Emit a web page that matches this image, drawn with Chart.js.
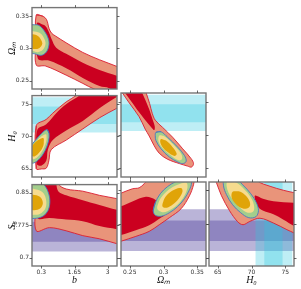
<!DOCTYPE html>
<html>
<head>
<meta charset="utf-8">
<script src="https://cdn.jsdelivr.net/npm/chart.js@4.4.0/dist/chart.umd.min.js"></script>
<style>
body { margin: 0; background: #fff; }
#wrap { position: relative; width: 301px; height: 289px; overflow: hidden; }
#wrap canvas { position: absolute; }
</style>
</head>
<body>
<div id="wrap"></div>
<script>
// axis ranges, ticks and labels
var b_range = [-0.075, 3.375], b_ticks = [0.3, 1.65, 3], b_labels = ['0.3', '1.65', '3'];
var om_range = [0.237, 0.363], om_ticks = [0.25, 0.3, 0.35], om_labels = ['0.25', '0.3', '0.35'];
var h0_range = [63.7, 76.3], h0_ticks = [65, 70, 75], h0_labels = ['65', '70', '75'];
var s8_range = [0.681, 0.869], s8_ticks = [0.7, 0.775, 0.85], s8_labels = ['0.7', '0.775', '0.85'];

// external priors (bands)
var h0_band_outer = [70.6, 76.05], h0_band_inner = [71.9, 74.6];
var s8_band_outer = [0.7145, 0.808], s8_band_inner = [0.737, 0.783];

// b - Omega_m
var b_om_2s = [[0.097,0.3515],[0.365,0.3497],[0.515,0.3445],[0.616,0.331],[0.718,0.3235],[0.88,0.319],[1.313,0.3085],[1.986,0.2936],[2.663,0.2823],[3.373,0.2719],[3.68,0.2666],[3.68,0.22],[2.46,0.2367],[1.986,0.2457],[1.313,0.2584],[0.474,0.2726],[0.097,0.2741],[0.09,0.31]];
var b_om_1s = [[0.122,0.3389],[0.434,0.3355],[0.596,0.3265],[0.718,0.3145],[0.908,0.301],[1.313,0.2916],[1.986,0.2778],[2.663,0.2666],[3.365,0.2576],[3.68,0.2531],[3.68,0.2217],[3.058,0.2382],[2.663,0.2416],[1.986,0.2542],[1.313,0.2692],[0.636,0.2808],[0.162,0.2841]];
var b_om_e2 = [[-0.255,0.337],[-0.04,0.3365],[0.203,0.3355],[0.434,0.3265],[0.596,0.3141],[0.608,0.304],[0.503,0.294],[0.3,0.2891],[0.028,0.2916],[-0.255,0.2936]];
var b_om_e1 = [[-0.255,0.3265],[-0.04,0.3265],[0.231,0.324],[0.405,0.3165],[0.474,0.3066],[0.365,0.2976],[0.162,0.294],[-0.04,0.2958],[-0.255,0.298]];
var b_om_e0 = [[-0.255,0.322],[-0.04,0.3216],[0.162,0.319],[0.3,0.3126],[0.341,0.3066],[0.231,0.3006],[0.028,0.2988],[-0.255,0.301]];

// b - H0
var b_h0_2s = [[0.097,64.97],[0.097,71.63],[0.503,72.62],[0.77,73.59],[1.313,75.33],[1.719,76.32],[2.0,77.5],[3.68,77.5],[3.68,74.9],[3.365,74.33],[2.663,72.86],[1.986,71.14],[1.313,69.41],[0.705,67.93],[0.608,66.2],[0.503,65.07],[0.3,64.95]];
var b_h0_1s = [[0.122,65.71],[0.138,70.99],[0.503,71.88],[0.973,73.85],[1.447,75.33],[1.852,76.32],[2.1,77.5],[3.68,77.5],[3.68,76.5],[3.365,76.07],[2.663,74.33],[1.986,72.37],[1.313,70.89],[0.77,69.41],[0.568,67.93],[0.503,66.2],[0.3,65.46]];
var b_h0_e2 = [[0.535,71.04],[0.616,70.44],[0.596,69.26],[0.454,67.78],[0.231,66.52],[-0.012,65.86],[-0.174,66.0],[-0.255,67.19],[-0.174,68.22],[0.069,69.41],[0.312,70.44]];
var b_h0_e1 = [[0.495,70.30],[0.515,69.41],[0.393,68.08],[0.211,67.04],[-0.012,66.45],[-0.134,66.89],[-0.093,68.22],[0.109,69.26],[0.312,70.0]];
var b_h0_e0 = [[0.393,69.70],[0.393,68.67],[0.251,67.63],[0.028,66.89],[-0.134,67.19],[-0.113,68.22],[0.069,69.11],[0.231,69.56]];

// Omega_m - H0
var om_h0_2s = [[0.2355,76.8],[0.239,76.32],[0.249,74.84],[0.2639,72.74],[0.2728,70.89],[0.2788,69.85],[0.2863,68.37],[0.2937,67.26],[0.3057,66.38],[0.3236,65.71],[0.3355,65.34],[0.3415,65.19],[0.3445,65.71],[0.341,66.45],[0.3285,67.93],[0.3136,69.66],[0.2987,71.14],[0.2878,72.22],[0.2833,73.25],[0.2794,74.73],[0.2743,76.32],[0.2728,76.8]];
var om_h0_1s = [[0.24,76.8],[0.243,76.32],[0.2534,74.88],[0.2639,73.40],[0.2743,72.07],[0.2818,71.18],[0.2863,70.74],[0.287,71.33],[0.2837,72.37],[0.2788,73.85],[0.2728,75.33],[0.2684,76.32],[0.2669,76.8]];
var om_h0_e2 = [[0.2888,70.40],[0.2963,70.49],[0.3061,69.66],[0.321,68.18],[0.331,66.94],[0.3336,66.05],[0.3285,65.71],[0.321,65.96],[0.3087,66.70],[0.2963,67.93],[0.2888,69.16],[0.2878,69.90]];
var om_h0_e1 = [[0.2937,69.90],[0.3012,69.81],[0.3161,68.42],[0.3261,67.19],[0.3276,66.45],[0.3225,66.20],[0.3112,66.94],[0.2987,68.03],[0.2927,69.01]];
var om_h0_e0 = [[0.2963,69.41],[0.3037,69.16],[0.3136,68.18],[0.3196,67.19],[0.3161,66.85],[0.3061,67.44],[0.2987,68.18],[0.2952,68.92]];

// b - S8
var b_s8_2s = [[0.097,0.90],[0.9,0.90],[1.0,0.8701],[1.313,0.8589],[1.986,0.8538],[2.663,0.8442],[3.365,0.8366],[3.68,0.8315],[3.68,0.7288],[3.365,0.7326],[2.663,0.7438],[1.986,0.7511],[1.313,0.7623],[0.636,0.7696],[0.097,0.7623],[0.097,0.83]];
var b_s8_1s = [[0.55,0.90],[0.85,0.90],[0.973,0.8554],[1.313,0.8442],[1.986,0.833],[2.663,0.8219],[3.365,0.8107],[3.68,0.806],[3.68,0.762],[3.365,0.7661],[2.663,0.7734],[1.986,0.7846],[1.313,0.7884],[0.636,0.792],[0.15,0.792],[0.15,0.85]];
var b_s8_e2 = [[-0.255,0.8739],[0.15,0.8761],[0.434,0.8672],[0.608,0.8471],[0.649,0.827],[0.576,0.8092],[0.393,0.7969],[0.109,0.7913],[-0.174,0.7935],[-0.296,0.8292]];
var b_s8_e1 = [[-0.255,0.8583],[0.15,0.8571],[0.393,0.8493],[0.503,0.8315],[0.474,0.8147],[0.312,0.8036],[0.069,0.7991],[-0.255,0.8025]];
var b_s8_e0 = [[-0.255,0.8449],[0.109,0.8442],[0.292,0.8382],[0.365,0.827],[0.312,0.817],[0.15,0.8107],[-0.093,0.8103],[-0.255,0.8158]];

// Omega_m - S8
var om_s8_2s = [[0.231,0.8404],[0.2366,0.8437],[0.2539,0.8538],[0.2639,0.856],[0.2713,0.865],[0.2788,0.8783],[0.2833,0.89],[0.346,0.89],[0.346,0.8783],[0.3445,0.8627],[0.3385,0.8382],[0.3261,0.8092],[0.3087,0.7891],[0.2937,0.7734],[0.2788,0.7585],[0.259,0.7473],[0.2366,0.7362],[0.231,0.7333]];
var om_s8_1s = [[0.231,0.8136],[0.2366,0.8143],[0.2539,0.8254],[0.2739,0.8359],[0.2878,0.8292],[0.2937,0.8158],[0.3027,0.798],[0.2937,0.7868],[0.2788,0.7723],[0.259,0.7612],[0.2366,0.75],[0.231,0.7478]];
var om_s8_e2 = [[0.2848,0.8047],[0.2878,0.8225],[0.2952,0.8426],[0.3057,0.8583],[0.3176,0.8694],[0.3296,0.8761],[0.3385,0.8783],[0.3415,0.8672],[0.3385,0.8516],[0.331,0.8315],[0.3206,0.8136],[0.3087,0.8002],[0.2967,0.7924],[0.2878,0.7946]];
var om_s8_e1 = [[0.2907,0.8092],[0.2937,0.827],[0.3027,0.8449],[0.3131,0.8571],[0.3251,0.8650],[0.334,0.8672],[0.3355,0.856],[0.331,0.8382],[0.3221,0.8203],[0.3116,0.8081],[0.2997,0.8013]];
var om_s8_e0 = [[0.2982,0.8158],[0.3012,0.8315],[0.3087,0.8449],[0.3176,0.8527],[0.3266,0.8549],[0.3281,0.8471],[0.3236,0.8337],[0.3161,0.8214],[0.3072,0.8125],[0.3012,0.8114]];

// H0 - S8
var h0_s8_2s = [[64.5,0.8783],[70.95,0.8783],[71.0,0.8701],[72.75,0.8594],[74.75,0.8504],[76.39,0.8449],[77.25,0.8426],[77.25,0.7489],[76.39,0.7545],[75.25,0.7623],[73.25,0.7772],[71.25,0.7879],[69.75,0.7808],[68.75,0.7734],[67.95,0.7801],[66.75,0.8047],[65.55,0.8382],[64.81,0.8672]];
var h0_s8_1s = [[70.5,0.8382],[71.7,0.8315],[73.25,0.8259],[74.75,0.8237],[76.39,0.8225],[77.25,0.8225],[77.25,0.7667],[76.39,0.7701],[74.75,0.7846],[73.25,0.7969],[71.75,0.8047],[70.95,0.8136]];
var h0_s8_e2 = [[66.0,0.8783],[67.5,0.8783],[68.7,0.8627],[69.9,0.8426],[70.73,0.8225],[71.03,0.8047],[70.65,0.7913],[69.6,0.7891],[68.4,0.8002],[67.2,0.8181],[66.3,0.8404],[65.85,0.8605]];
var h0_s8_e1 = [[66.45,0.8694],[67.65,0.8683],[68.85,0.8538],[69.83,0.8359],[70.35,0.8181],[70.28,0.8036],[69.45,0.8002],[68.4,0.8103],[67.35,0.827],[66.6,0.8449],[66.3,0.8605]];
var h0_s8_e0 = [[67.2,0.8471],[68.1,0.8482],[69.0,0.8404],[69.68,0.827],[69.75,0.8147],[69.15,0.8092],[68.25,0.8125],[67.5,0.8225],[67.05,0.8348]];

var salmon = 'rgb(233,148,122)', crimson = 'rgb(203,0,32)', redline = 'rgb(218,30,50)';
var green = 'rgb(163,206,140)', blueline = 'rgb(72,118,190)', lightyellow = 'rgb(246,219,142)', gold = 'rgb(224,164,8)';
var cyan = 'rgba(45,200,223,0.31)', purple = 'rgba(73,58,152,0.38)';

var axes = {
  b:  {range: b_range,  ticks: b_ticks,  labels: b_labels,  title: 'b'},
  om: {range: om_range, ticks: om_ticks, labels: om_labels, title: 'Ωₘ'},
  h0: {range: h0_range, ticks: h0_ticks, labels: h0_labels, title: 'H₀'},
  s8: {range: s8_range, ticks: s8_ticks, labels: s8_labels, title: 'S₈'}
};
var col_left = [32, 121, 209], row_top = [5, 93, 182];
var pw = 85, ph = 84, padL = 32, padT = 4, padR = 4, padB = 34;

function shape(pts, fill, line, lw, tension) {
  var d = pts.map(function (p) { return {x: p[0], y: p[1]}; });
  var t = tension === undefined ? 0.35 : tension;
  // close the ring; for smooth curves run on to the 2nd point so the seam has no kink
  d.push({x: pts[0][0], y: pts[0][1]});
  if (t > 0) { d.push({x: pts[1][0], y: pts[1][1]}); }
  return {data: d, fill: 'shape', backgroundColor: fill, borderColor: line || 'rgba(0,0,0,0)',
          borderWidth: lw || 0, tension: t, pointRadius: 0, clip: 0};
}
function hband(r, xa, color) {
  var lo = xa.range[0] - 10, hi = xa.range[1] + 10;
  return shape([[lo, r[0]], [hi, r[0]], [hi, r[1]], [lo, r[1]]], color, null, 0, 0);
}
function vband(r, ya, color) {
  var lo = ya.range[0] - 10, hi = ya.range[1] + 10;
  return shape([[r[0], lo], [r[1], lo], [r[1], hi], [r[0], hi]], color, null, 0, 0);
}

var panels = [
  {col: 0, row: 0, x: 'b',  y: 'om', c: [b_om_2s, b_om_1s, b_om_e2, b_om_e1, b_om_e0]},
  {col: 0, row: 1, x: 'b',  y: 'h0', c: [b_h0_2s, b_h0_1s, b_h0_e2, b_h0_e1, b_h0_e0]},
  {col: 1, row: 1, x: 'om', y: 'h0', c: [om_h0_2s, om_h0_1s, om_h0_e2, om_h0_e1, om_h0_e0]},
  {col: 0, row: 2, x: 'b',  y: 's8', c: [b_s8_2s, b_s8_1s, b_s8_e2, b_s8_e1, b_s8_e0]},
  {col: 1, row: 2, x: 'om', y: 's8', c: [om_s8_2s, om_s8_1s, om_s8_e2, om_s8_e1, om_s8_e0]},
  {col: 2, row: 2, x: 'h0', y: 's8', c: [h0_s8_2s, h0_s8_1s, h0_s8_e2, h0_s8_e1, h0_s8_e0]}
];

var framePlugin = {
  id: 'frame',
  afterDatasetsDraw: function (chart) {
    var ctx = chart.ctx, a = chart.chartArea, xs = chart.scales.x, ys = chart.scales.y;
    ctx.save();
    ctx.strokeStyle = '#767676';
    ctx.lineWidth = 1.4;
    ctx.strokeRect(a.left, a.top, a.right - a.left, a.bottom - a.top);
    ctx.strokeStyle = '#444';
    ctx.lineWidth = 0.8;
    ctx.beginPath();
    xs.ticks.forEach(function (t) {
      var px = Math.round(xs.getPixelForValue(t.value)) + 0.5;
      ctx.moveTo(px, a.bottom); ctx.lineTo(px, a.bottom + 2.5);
      ctx.moveTo(px, a.top); ctx.lineTo(px, a.top - 2.5);
    });
    ys.ticks.forEach(function (t) {
      var py = Math.round(ys.getPixelForValue(t.value)) + 0.5;
      ctx.moveTo(a.left, py); ctx.lineTo(a.left - 2.5, py);
      ctx.moveTo(a.right, py); ctx.lineTo(a.right + 2.5, py);
    });
    ctx.stroke();
    ctx.restore();
  }
};

function axisOpts(ax, showLabels, isX) {
  return {
    type: 'linear',
    min: ax.range[0], max: ax.range[1],
    afterBuildTicks: function (s) { s.ticks = ax.ticks.map(function (v) { return {value: v}; }); },
    afterFit: function (s) { if (isX) { s.height = padB; } else { s.width = padL; } },
    grid: {display: false, drawTicks: false},
    border: {display: false},
    ticks: {
      display: showLabels, padding: 3, color: '#333', autoSkip: false, maxRotation: 0,
      font: {family: 'DejaVu Sans', size: 6},
      callback: function (v, i) { return ax.labels[i]; }
    },
    title: {
      display: showLabels, text: ax.title, color: '#111',
      font: {family: 'Liberation Serif', style: 'italic', size: 10},
      padding: isX ? {top: 0, bottom: 14} : {top: 6, bottom: 0}
    }
  };
}

var wrap = document.getElementById('wrap');
panels.forEach(function (p) {
  var xa = axes[p.x], ya = axes[p.y];
  var cv = document.createElement('canvas');
  cv.width = padL + pw + padR;
  cv.height = padT + ph + padB;
  cv.style.left = (col_left[p.col] - padL) + 'px';
  cv.style.top = (row_top[p.row] - padT) + 'px';
  wrap.appendChild(cv);

  var ds = [];
  if (p.y === 's8') { ds.push(hband(s8_band_outer, xa, purple), hband(s8_band_inner, xa, purple)); }
  if (p.y === 'h0') { ds.push(hband(h0_band_outer, xa, cyan), hband(h0_band_inner, xa, cyan)); }
  if (p.x === 'h0') { ds.push(vband(h0_band_outer, ya, cyan), vband(h0_band_inner, ya, cyan)); }
  ds.push(shape(p.c[0], salmon, redline, 0.9));
  ds.push(shape(p.c[1], crimson, null, 0));
  ds.push(shape(p.c[2], green, blueline, 0.9));
  ds.push(shape(p.c[3], lightyellow, null, 0));
  ds.push(shape(p.c[4], gold, null, 0));
  ds.forEach(function (d, i) { d.order = ds.length - i; });

  new Chart(cv, {
    type: 'line',
    data: {datasets: ds},
    options: {
      responsive: false, animation: false, devicePixelRatio: 1,
      layout: {padding: {top: padT, right: padR, bottom: 0, left: 0}},
      elements: {line: {capBezierPoints: false}},
      plugins: {legend: {display: false}, tooltip: {enabled: false}},
      scales: {
        x: axisOpts(xa, p.row === 2, true),
        y: axisOpts(ya, p.col === 0, false)
      }
    },
    plugins: [framePlugin]
  });
});
</script>
</body>
</html>
